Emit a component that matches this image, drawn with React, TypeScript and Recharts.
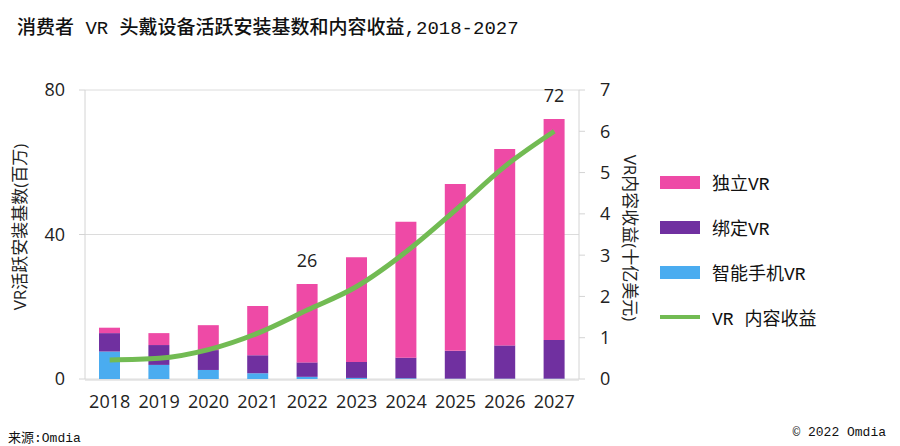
import React from 'react';
import {
  ComposedChart,
  Bar,
  Line,
  XAxis,
  YAxis,
  CartesianGrid,
  LabelList,
} from 'recharts';

const years = ['2018', '2019', '2020', '2021', '2022', '2023', '2024', '2025', '2026', '2027'];
const smartphoneVr = [7.6, 3.9, 2.5, 1.6, 0.6, 0.3, 0.2, 0.1, 0.1, 0.1];
const tetheredVr = [5.1, 5.5, 5.5, 5.0, 4.0, 4.4, 5.7, 7.7, 9.2, 10.7];
const standaloneVr = [1.5, 3.3, 6.9, 13.6, 21.7, 29.0, 37.6, 46.2, 54.4, 61.2];
const contentRevenue = [0.46, 0.5, 0.71, 1.11, 1.67, 2.24, 3.08, 4.09, 5.15, 6.0];
const totalLabels = [null, null, null, null, '26', null, null, null, null, '72'];

const leftTicks = [0, 40, 80];
const rightTicks = [0, 1, 2, 3, 4, 5, 6, 7];
const betweenTicks = [0, 1, 2, 3, 4, 5, 6, 7, 8, 9, 10];

const COLORS = {
  standalone: '#ee4aa6',
  tethered: '#7030a0',
  smartphone: '#4aacf0',
  revenue: '#72bb53',
};

const data = years.map((year, i) => ({
  year,
  smartphone: smartphoneVr[i],
  tethered: tetheredVr[i],
  standalone: standaloneVr[i],
  revenue: contentRevenue[i],
  label: totalLabels[i],
}));

const legendItems = [
  { name: '独立VR', color: COLORS.standalone, type: 'rect' },
  { name: '绑定VR', color: COLORS.tethered, type: 'rect' },
  { name: '智能手机VR', color: COLORS.smartphone, type: 'rect' },
  { name: 'VR 内容收益', color: COLORS.revenue, type: 'line' },
];

const songFont = '"Liberation Mono", "Noto Sans CJK SC", monospace';
const sansFont = '"Open Sans", "Noto Sans CJK SC", sans-serif';
const axisGray = '#d4d4d4';
const tickStyle = { fontSize: 18, fill: '#222', fontFamily: sansFont };

export default function App() {
  return (
    <div
      style={{
        position: 'absolute',
        left: 0,
        top: 0,
        width: 900,
        height: 446,
        background: '#fff',
        overflow: 'hidden',
      }}
    >
      <div
        style={{
          position: 'absolute',
          left: 17,
          top: 19,
          fontSize: 19,
          lineHeight: '20px',
          fontFamily: songFont,
          fontWeight: 500,
          color: '#111',
          whiteSpace: 'nowrap',
        }}
      >
        消费者 VR 头戴设备活跃安装基数和内容收益,2018-2027
      </div>

      <ComposedChart
        width={900}
        height={446}
        data={data}
        margin={{ top: 90, right: 241, bottom: 65, left: 0 }}
        style={{ position: 'absolute', left: 0, top: 0 }}
      >
        <CartesianGrid yAxisId="left" xAxisId="cat" vertical={false} stroke="#dcdcdc" />
        {/* Excel-style tick marks between categories */}
        <XAxis
          xAxisId="ticks"
          type="number"
          domain={[0, 10]}
          ticks={betweenTicks}
          tick={false}
          tickSize={6}
          height={1}
          stroke={axisGray}
        />
        <XAxis
          xAxisId="cat"
          dataKey="year"
          axisLine={false}
          tickLine={false}
          tickSize={6}
          tickMargin={10}
          height={1}
          tick={tickStyle}
          interval={0}
        />
        <YAxis
          yAxisId="left"
          domain={[0, 80]}
          ticks={leftTicks}
          width={85}
          tickSize={6}
          tickMargin={14}
          stroke={axisGray}
          tick={tickStyle}
        />
        <YAxis
          yAxisId="right"
          orientation="right"
          domain={[0, 7]}
          ticks={rightTicks}
          width={80}
          tickSize={6}
          tickMargin={15}
          stroke={axisGray}
          tick={{ ...tickStyle, textAnchor: 'start' }}
        />
        <Bar xAxisId="cat" yAxisId="left" dataKey="smartphone" stackId="a" fill={COLORS.smartphone} barSize={21} isAnimationActive={false} />
        <Bar xAxisId="cat" yAxisId="left" dataKey="tethered" stackId="a" fill={COLORS.tethered} barSize={21} isAnimationActive={false} />
        <Bar xAxisId="cat" yAxisId="left" dataKey="standalone" stackId="a" fill={COLORS.standalone} barSize={21} isAnimationActive={false}>
          <LabelList dataKey="label" position="top" offset={17} style={{ fontSize: 18, fill: '#222', fontFamily: sansFont }} />
        </Bar>
        <Line
          xAxisId="cat"
          yAxisId="right"
          type="monotone"
          dataKey="revenue"
          stroke={COLORS.revenue}
          strokeWidth={5}
          dot={false}
          activeDot={false}
          isAnimationActive={false}
        />
      </ComposedChart>

      {/* axis titles */}
      <div
        style={{
          position: 'absolute',
          left: 18,
          top: 227,
          transform: 'translate(-50%, -50%) rotate(-90deg)',
          fontSize: 17,
          fontFamily: sansFont,
          color: '#222',
          whiteSpace: 'nowrap',
        }}
      >
        VR活跃安装基数(百万)
      </div>
      <div
        style={{
          position: 'absolute',
          left: 631,
          top: 238,
          transform: 'translate(-50%, -50%) rotate(90deg)',
          fontSize: 17,
          fontFamily: sansFont,
          color: '#222',
          whiteSpace: 'nowrap',
        }}
      >
        VR内容收益(十亿美元)
      </div>

      {/* legend */}
      {legendItems.map((item, i) => (
        <div
          key={item.name}
          style={{
            position: 'absolute',
            left: 660,
            top: 182 + i * 45 - 12,
            height: 24,
            display: 'flex',
            alignItems: 'center',
            fontSize: 18,
            fontFamily: songFont,
            color: '#111',
            whiteSpace: 'nowrap',
          }}
        >
          <span
            style={{
              display: 'inline-block',
              width: 40,
              height: item.type === 'rect' ? 13 : 4,
              background: item.color,
              marginRight: 12,
            }}
          />
          {item.name}
        </div>
      ))}

      <div
        style={{
          position: 'absolute',
          left: 8,
          top: 427,
          fontSize: 13,
          fontFamily: songFont,
          color: '#111',
        }}
      >
        来源:Omdia
      </div>
      <div
        style={{
          position: 'absolute',
          right: 14,
          top: 425,
          fontSize: 13,
          fontFamily: songFont,
          color: '#111',
        }}
      >
        © 2022 Omdia
      </div>
    </div>
  );
}
